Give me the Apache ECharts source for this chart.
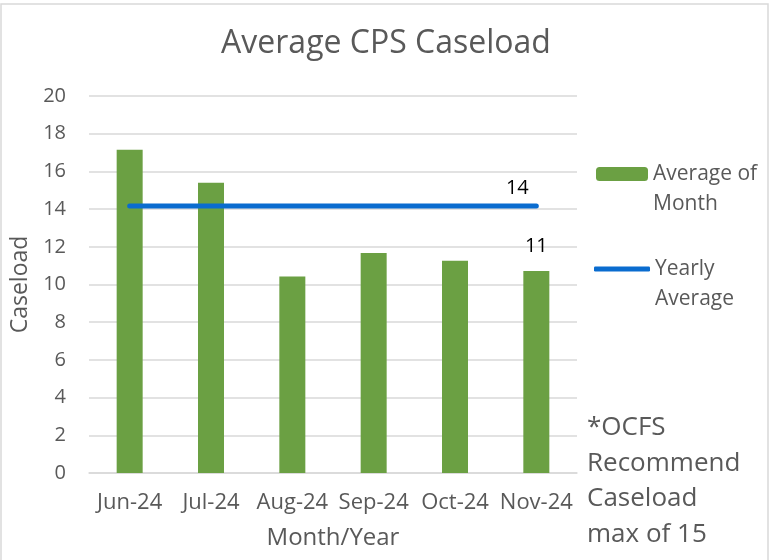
<!DOCTYPE html>
<html>
<head>
<meta charset="utf-8">
<script src="https://cdn.jsdelivr.net/npm/echarts@6/dist/echarts.min.js"></script>
<style>
  html, body { margin: 0; padding: 0; background: #fff; }
  #chart { width: 778px; height: 560px; }
</style>
</head>
<body>
<div id="chart"></div>
<script>
// data
var months = ['Jun-24', 'Jul-24', 'Aug-24', 'Sep-24', 'Oct-24', 'Nov-24'];
var monthAvg = [17.15, 15.4, 10.42, 11.67, 11.26, 10.72];
var yearlyAvg = [14.16, 14.16, 14.16, 14.16, 14.16, 14.16];
var yTicks = [0, 2, 4, 6, 8, 10, 12, 14, 16, 18, 20];
var noteLines = ['*OCFS', 'Recommend', 'Caseload', 'max of 15'];

var fontFam = '"Open Sans", "Liberation Sans", sans-serif';
var grey = '#595959';
var last = months.length - 1;

var chart = echarts.init(document.getElementById('chart'));

chart.setOption({
    animation: false,
    textStyle: { fontFamily: fontFam },
    title: {
        text: 'Average CPS Caseload',
        left: 381,
        top: 23,
        textAlign: 'center',
        textStyle: { fontSize: 32, fontWeight: 'normal', color: grey, fontFamily: fontFam }
    },
    grid: {
        left: 89,
        right: 201,
        top: 96,
        bottom: 87
    },
    legend: [{
        // leading blank line so the first text line sits level with the icon
        data: ['Average of Month'],
        left: 596,
        top: 129,
        padding: 0,
        itemWidth: 52,
        itemHeight: 14,
        formatter: function () { return ' \nAverage of\nMonth' },
        textStyle: { fontSize: 21, color: grey, lineHeight: 30, fontFamily: fontFam }
    }, {
        data: [{ name: 'Yearly Average', icon: 'roundRect' }],
        left: 594,
        top: 224,
        padding: 0,
        itemWidth: 56,
        itemHeight: 5,
        formatter: function () { return ' \nYearly\nAverage' },
        textStyle: { fontSize: 21, color: grey, lineHeight: 30, fontFamily: fontFam }
    }],
    xAxis: {
        type: 'category',
        data: months,
        name: 'Month/Year',
        nameLocation: 'middle',
        nameGap: 53,
        nameTextStyle: { fontSize: 24, color: grey },
        axisTick: { show: false },
        axisLine: { show: true, lineStyle: { color: '#d9d9d9', width: 1.5 } },
        axisLabel: { margin: 19, fontSize: 22, color: grey, interval: 0 }
    },
    yAxis: {
        type: 'value',
        min: yTicks[0],
        max: yTicks[yTicks.length - 1],
        interval: 2,
        name: 'Caseload',
        nameLocation: 'middle',
        nameGap: 49,
        nameTextStyle: { fontSize: 23, color: grey },
        axisLine: { show: false },
        axisTick: { show: false },
        axisLabel: { margin: 23, fontSize: 20, color: grey },
        splitLine: { lineStyle: { color: '#d9d9d9', width: 1.5 } }
    },
    series: [{
        name: 'Average of Month',
        type: 'bar',
        barWidth: 26,
        itemStyle: { color: '#6ba043' },
        data: monthAvg.map(function (v, i) {
            return i === last ? {
                value: v,
                label: {
                    show: true,
                    position: 'top',
                    distance: 15,
                    fontSize: 20,
                    color: '#000',
                    formatter: function (p) { return Math.round(p.value) }
                }
            } : v
        })
    }, {
        name: 'Yearly Average',
        type: 'line',
        symbol: 'circle',
        symbolSize: 0.1,
        showSymbol: true,
        lineStyle: { color: '#0a6ccf', width: 5, cap: 'round' },
        itemStyle: { color: '#0a6ccf' },
        data: yearlyAvg.map(function (v, i) {
            return i === last ? {
                value: v,
                label: {
                    show: true,
                    position: 'top',
                    distance: 8,
                    offset: [-19, 0],
                    fontSize: 20,
                    color: '#000',
                    formatter: function (p) { return Math.round(p.value) }
                }
            } : v
        })
    }],
    graphic: [{
        type: 'rect',
        shape: { x: 1, y: 4, width: 767, height: 570 },
        style: { fill: 'none', stroke: '#d9d9d9', lineWidth: 1.5 },
        silent: true
    }, {
        type: 'text',
        left: 587,
        top: 410,
        style: {
            text: noteLines.join('\n'),
            fontSize: 26,
            lineHeight: 35.5,
            fill: grey,
            fontFamily: fontFam
        }
    }]
});
</script>
</body>
</html>
